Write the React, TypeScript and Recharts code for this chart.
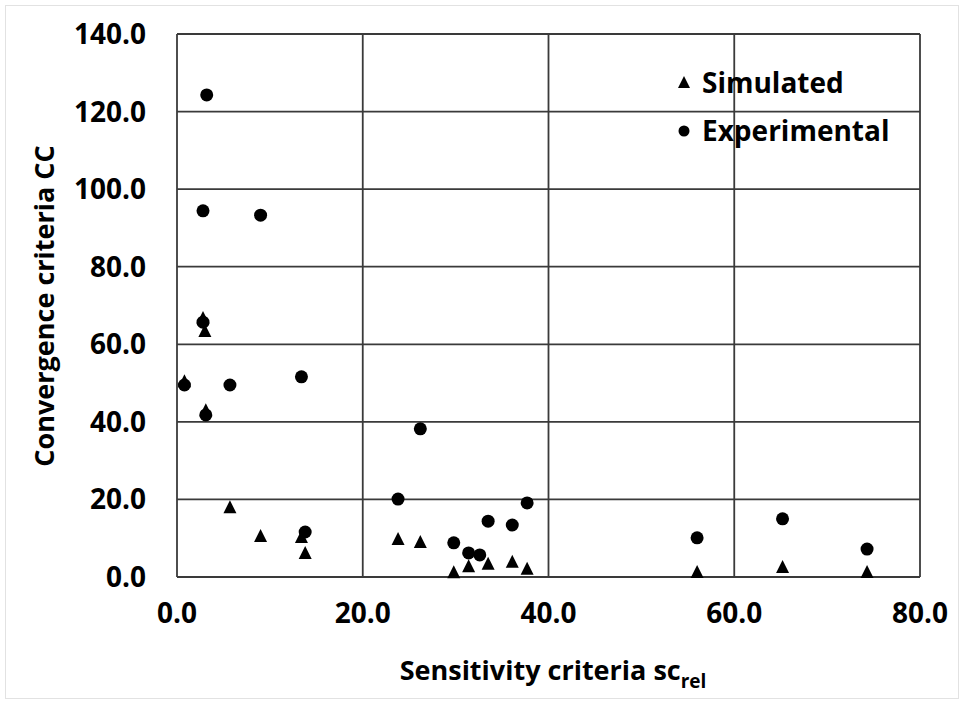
import { ScatterChart, Scatter, XAxis, YAxis, CartesianGrid } from 'recharts'

// sensitivity criteria sc_rel (x) and convergence criteria CC (y)
const simulatedX = [0.8, 2.8, 3.0, 3.1, 5.7, 9.0, 13.4, 13.8, 23.8, 26.2, 29.8, 31.4, 33.5, 36.1, 37.7, 56.0, 65.2, 74.3]
const simulatedY = [50.5, 66.8, 63.4, 43.0, 18.0, 10.6, 10.3, 6.2, 9.8, 9.0, 1.2, 2.8, 3.4, 3.9, 2.1, 1.3, 2.6, 1.3]

const experimentalX = [3.2, 2.8, 9.0, 2.8, 0.8, 5.7, 13.4, 3.1, 26.2, 23.8, 37.7, 33.5, 36.1, 29.8, 31.4, 32.6, 13.8, 56.0, 65.2, 74.3]
const experimentalY = [124.3, 94.4, 93.3, 65.7, 49.5, 49.5, 51.6, 41.8, 38.2, 20.1, 19.1, 14.4, 13.4, 8.8, 6.2, 5.7, 11.6, 10.1, 15.0, 7.2]

const xTicks = [0, 20, 40, 60, 80]
const yTicks = [0, 20, 40, 60, 80, 100, 120, 140]

const simulated = simulatedX.map((x, i) => ({ x, y: simulatedY[i] }))
const experimental = experimentalX.map((x, i) => ({ x, y: experimentalY[i] }))

const font = '"Open Sans", sans-serif'
const gridColor = '#3a3a3a'

const Triangle = (props: any) => {
  const { cx, cy } = props
  const h = 12
  const w = 13
  return <polygon points={`${cx},${cy - h / 2 - 1} ${cx - w / 2},${cy + h / 2} ${cx + w / 2},${cy + h / 2}`} fill="#000" />
}

const Dot = (props: any) => {
  const { cx, cy } = props
  return <circle cx={cx} cy={cy} r={6.5} fill="#000" />
}

export default function App() {
  return (
    <div style={{ position: 'absolute', left: 0, top: 0, width: 964, height: 703, background: '#fff' }}>
      <div style={{ position: 'absolute', left: 5, top: 5, width: 952, height: 692, border: '1px solid #e2e2e2' }} />
      <ScatterChart width={964} height={703} margin={{ top: 34, right: 44, left: 0, bottom: 0 }}>
        <CartesianGrid stroke={gridColor} strokeWidth={1.8} horizontalValues={yTicks} verticalValues={xTicks} />
        <XAxis
          type="number"
          dataKey="x"
          domain={[0, 80]}
          ticks={xTicks}
          height={126}
          axisLine={false}
          tickLine={false}
          tickSize={0}
          tickMargin={26}
          tickFormatter={(v: number) => v.toFixed(1)}
          tick={{ fontFamily: font, fontWeight: 700, fontSize: 28, fill: '#000' }}
          label={{
            content: () => (
              <text x={553} y={680} textAnchor="middle" fontFamily={font} fontWeight={700} fontSize={27} fill="#000">
                Sensitivity criteria sc
                <tspan fontSize={19} dy={8}>rel</tspan>
              </text>
            ),
          }}
        />
        <YAxis
          type="number"
          dataKey="y"
          domain={[0, 140]}
          ticks={yTicks}
          width={177}
          axisLine={false}
          tickLine={false}
          tickSize={0}
          tickMargin={31}
          tickFormatter={(v: number) => v.toFixed(1)}
          tick={{ fontFamily: font, fontWeight: 700, fontSize: 28, fill: '#000' }}
          label={{
            content: () => (
              <text
                x={0}
                y={0}
                transform="translate(54, 306) rotate(-90)"
                textAnchor="middle"
                fontFamily={font}
                fontWeight={700}
                fontSize={27}
                fill="#000"
              >
                Convergence criteria CC
              </text>
            ),
          }}
        />
        <Scatter name="Simulated" data={simulated} shape={Triangle} isAnimationActive={false} />
        <Scatter name="Experimental" data={experimental} shape={Dot} isAnimationActive={false} />
      </ScatterChart>
      <div
        style={{
          position: 'absolute',
          left: 676,
          top: 58,
          fontFamily: font,
          fontWeight: 700,
          fontSize: 28,
          color: '#000',
          lineHeight: '48px',
        }}
      >
        <div style={{ display: 'flex', alignItems: 'center' }}>
          <svg width={26} height={20}><polygon points="8,4 2,16 14,16" fill="#000" /></svg>
          <span>Simulated</span>
        </div>
        <div style={{ display: 'flex', alignItems: 'center' }}>
          <svg width={26} height={20}><circle cx={8} cy={11} r={5.5} fill="#000" /></svg>
          <span>Experimental</span>
        </div>
      </div>
    </div>
  )
}
